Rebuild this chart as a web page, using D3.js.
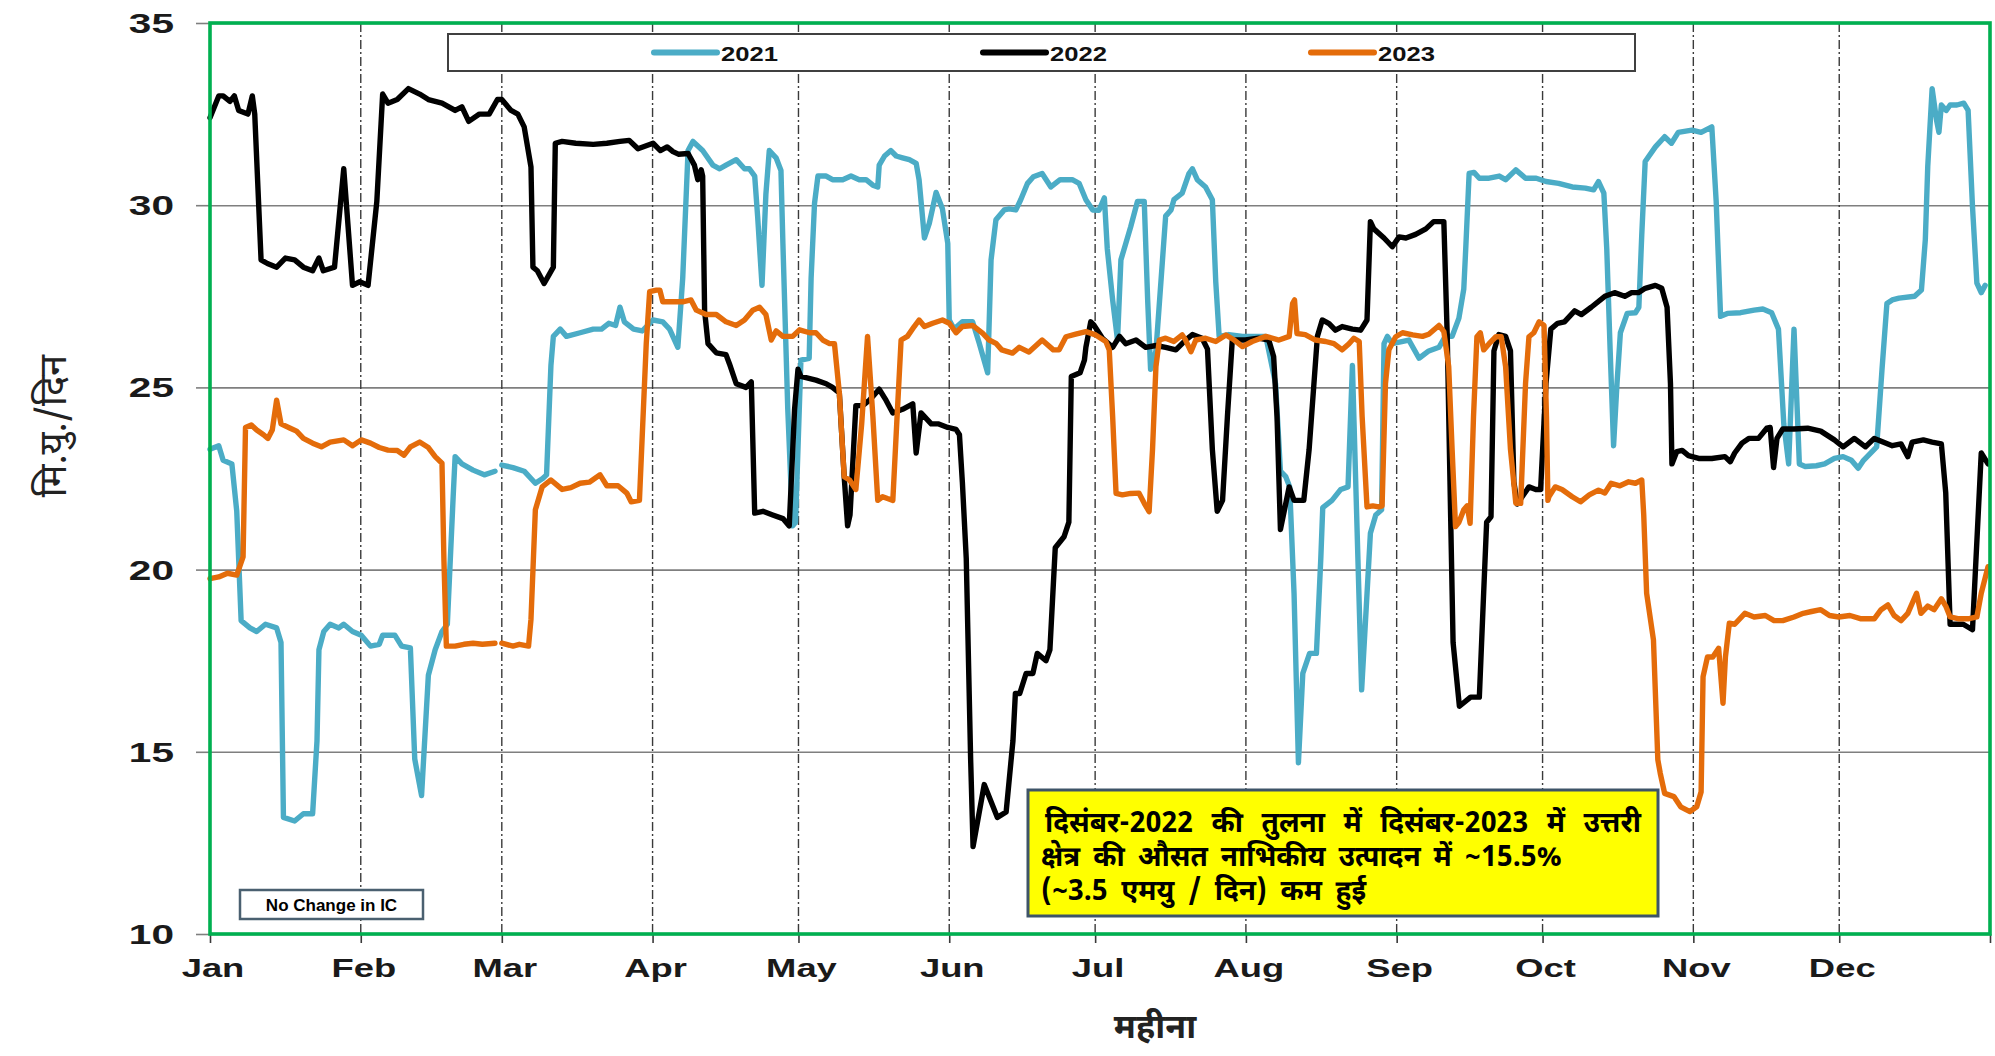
<!DOCTYPE html>
<html><head><meta charset="utf-8">
<script src="https://cdn.jsdelivr.net/npm/d3@7"></script>
<style>body{margin:0;background:#fff;} svg{display:block;}</style>
</head><body>
<svg id="chart" width="1995" height="1056"></svg>
<script>
// ---------- data ----------
const monthLabels = ['Jan','Feb','Mar','Apr','May','Jun','Jul','Aug','Sep','Oct','Nov','Dec'];
const monthStarts = [0,31,60,91,121,152,182,213,244,274,305,335];
const yearDays = 366;
const yTicks = [10,15,20,25,30,35];
const seriesNames = ['2021','2022','2023'];
const seriesColors = ['#4BACC6','#000000','#E46C0A'];

// [day of year, value]
const series2021 = [[0,23.3],[1.8,23.4],[2.7,23.0],[4.5,22.9],[5.5,21.6],[6.4,18.6],[8.2,18.4],[9.6,18.3],[11.4,18.5],[13.7,18.4],[14.6,18.0],[15.1,13.2],[17.4,13.1],[19.2,13.3],[21.1,13.3],[22.0,15.3],[22.4,17.8],[23.4,18.3],[24.7,18.5],[26.5,18.4],[27.5,18.5],[29.3,18.3],[31.1,18.2],[33.0,17.9],[34.8,17.95],[35.5,18.2],[38.0,18.2],[39.4,17.9],[41.2,17.85],[42.1,14.8],[43.5,13.8],[44.9,17.1],[46.3,17.8],[47.7,18.3],[48.8,18.5],[50.0,22.0],[50.4,23.1],[51.8,22.9],[54.1,22.73],[56.4,22.6],[58.6,22.7],[59.5,null],[60.0,22.87],[62.3,22.8],[64.6,22.7],[66.9,22.37],[68.4,22.5],[69.2,22.6],[70.1,25.6],[70.6,26.4],[72.0,26.6],[73.3,26.4],[76.1,26.5],[78.8,26.6],[80.5,26.6],[82.0,26.76],[83.4,26.7],[84.3,27.2],[85.2,26.8],[87.1,26.6],[88.9,26.55],[91.1,26.85],[93.1,26.8],[94.5,26.6],[96.2,26.1],[97.2,28.0],[98.3,31.5],[99.3,31.75],[101.3,31.5],[103.4,31.1],[104.8,31.0],[106.1,31.1],[108.2,31.25],[109.9,31.0],[110.9,31.0],[112.0,30.8],[112.6,29.7],[113.5,27.8],[114.3,30.3],[115.0,31.5],[116.4,31.3],[117.4,30.95],[117.8,28.95],[118.8,24.4],[119.8,21.2],[120.4,21.3],[121.5,25.75],[123.2,25.8],[123.6,28.0],[124.3,30.05],[125.0,30.8],[126.7,30.8],[128.0,30.7],[130.1,30.7],[131.8,30.8],[133.5,30.7],[134.9,30.7],[136.3,30.55],[137.3,30.5],[137.6,31.1],[138.7,31.35],[140.0,31.5],[141.1,31.35],[142.4,31.3],[143.8,31.25],[145.2,31.15],[145.8,30.7],[146.9,29.1],[147.9,29.5],[149.3,30.35],[150.6,29.9],[151.7,28.95],[152.0,26.85],[153.0,26.6],[154.7,26.8],[156.8,26.8],[158.2,26.2],[159.9,25.4],[160.6,28.5],[161.6,29.6],[163.3,29.87],[164.3,29.9],[165.7,29.87],[166.7,30.15],[168.1,30.6],[169.3,30.78],[171.1,30.87],[172.9,30.5],[174.8,30.7],[177.3,30.7],[178.7,30.6],[180.1,30.15],[181.5,29.87],[182.8,29.86],[183.9,30.2],[184.5,28.8],[185.6,27.4],[186.6,26.3],[187.3,28.5],[188.3,28.95],[189.3,29.4],[190.7,30.1],[192.1,30.1],[192.8,27.4],[193.4,25.5],[194.5,26.0],[196.5,29.7],[197.6,29.87],[198.2,30.15],[199.9,30.33],[201.3,30.87],[202.0,31.0],[203.0,30.7],[204.7,30.5],[206.1,30.15],[206.8,27.9],[207.5,26.4],[209.5,26.45],[212.3,26.4],[215.0,26.4],[217.1,26.4],[219.1,25.1],[220.1,22.7],[221.2,22.55],[222.0,22.27],[222.9,19.35],[223.8,14.7],[224.7,17.15],[226.1,17.7],[227.5,17.7],[228.4,20.3],[228.8,21.7],[230.7,21.9],[232.5,22.2],[234.0,22.27],[234.9,25.6],[236.8,16.7],[238.6,21.0],[239.7,21.5],[240.9,21.64],[241.4,26.2],[242.1,26.4],[243.1,26.2],[246.5,26.3],[248.6,25.8],[250.6,26.0],[252.7,26.1],[254.0,26.4],[255.4,26.4],[256.8,26.9],[257.8,27.7],[258.2,28.8],[258.9,30.87],[259.9,30.9],[261.0,30.74],[263.0,30.74],[265.1,30.8],[266.4,30.7],[268.5,30.97],[270.5,30.74],[272.7,30.74],[274.7,30.65],[277.3,30.6],[280.1,30.5],[282.8,30.47],[284.5,30.42],[285.5,30.65],[286.6,30.33],[287.2,28.8],[287.9,26.0],[288.6,23.4],[289.3,25.1],[290.0,26.5],[291.4,27.03],[293.1,27.05],[293.8,27.2],[294.4,29.2],[295.1,31.2],[297.2,31.6],[299.1,31.88],[300.5,31.7],[301.9,32.0],[304.7,32.06],[306.6,32.0],[308.8,32.15],[309.7,30.1],[310.6,26.95],[312.0,27.03],[314.7,27.05],[317.5,27.12],[319.3,27.15],[321.1,27.05],[322.5,26.6],[323.6,24.0],[324.6,22.9],[325.7,26.6],[326.8,22.9],[328.0,22.83],[330.3,22.85],[332.0,22.9],[334.0,23.05],[335.8,23.1],[337.5,23.0],[338.9,22.78],[340.0,23.0],[341.4,23.19],[342.7,23.37],[343.8,25.5],[344.8,27.3],[345.9,27.4],[347.3,27.45],[350.5,27.5],[351.9,27.67],[352.7,29.05],[353.2,31.06],[354.1,33.2],[355.0,32.34],[355.5,32.0],[356.0,32.75],[357.0,32.6],[357.8,32.75],[359.2,32.75],[360.6,32.8],[361.5,32.6],[362.4,29.96],[363.3,27.86],[364.2,27.6],[365.0,27.8]];

const series2022 = [[0,32.4],[1.8,33.0],[2.7,33.0],[4.1,32.85],[5.0,33.0],[5.9,32.6],[7.8,32.5],[8.7,33.0],[9.2,32.5],[10.5,28.5],[11.8,28.4],[13.7,28.3],[15.5,28.55],[17.4,28.5],[19.2,28.3],[21.1,28.2],[22.4,28.55],[23.3,28.2],[25.6,28.3],[27.5,31.0],[29.3,27.8],[30.8,27.9],[32.5,27.8],[34.3,30.1],[35.5,33.05],[36.6,32.8],[38.5,32.9],[40.8,33.2],[43.1,33.05],[44.9,32.9],[47.7,32.8],[50.4,32.6],[51.8,32.7],[53.2,32.3],[55.4,32.5],[57.4,32.5],[59.1,32.9],[60.0,32.9],[61.9,32.6],[63.3,32.5],[64.6,32.15],[66.0,31.05],[66.4,28.3],[67.3,28.2],[68.7,27.85],[70.6,28.3],[71.0,31.7],[72.4,31.75],[75.2,31.7],[78.8,31.67],[81.6,31.7],[84.3,31.75],[86.2,31.78],[88.0,31.55],[91.1,31.7],[92.6,31.5],[94.0,31.6],[95.2,31.47],[96.3,31.4],[98.3,31.42],[99.6,31.1],[100.3,30.7],[101.0,30.97],[101.3,30.8],[101.7,27.1],[102.4,26.2],[104.1,25.95],[106.1,25.9],[106.8,25.65],[108.2,25.1],[110.2,25.0],[111.3,25.15],[112.0,21.55],[113.7,21.6],[115.7,21.5],[117.8,21.4],[119.1,21.2],[120.2,24.4],[120.9,25.5],[121.5,25.3],[124.6,25.2],[126.7,25.1],[128.0,25.0],[129.4,24.85],[130.4,22.55],[131.1,21.2],[131.6,21.5],[132.8,24.5],[134.2,24.5],[135.6,24.65],[137.6,24.95],[139.0,24.65],[140.4,24.3],[142.4,24.4],[144.5,24.55],[145.2,23.2],[146.2,24.3],[148.3,24.0],[149.7,24.0],[151.7,23.9],[153.4,23.85],[154.1,23.7],[154.7,22.4],[155.5,20.3],[156.4,14.8],[156.9,12.4],[159.2,14.1],[161.9,13.2],[163.7,13.35],[165.1,15.3],[165.6,16.6],[166.5,16.6],[167.8,17.15],[169.2,17.15],[170.1,17.7],[171.9,17.5],[172.7,17.8],[173.8,20.6],[175.6,20.9],[176.6,21.3],[177.1,25.3],[178.9,25.4],[179.8,25.75],[180.1,26.1],[181.1,26.8],[181.8,26.7],[183.5,26.35],[185.6,26.1],[187.0,26.4],[188.3,26.2],[190.4,26.3],[192.4,26.1],[194.5,26.15],[196.5,26.1],[198.6,26.03],[200.6,26.3],[202.0,26.45],[204.0,26.35],[205.1,26.05],[206.1,23.3],[207.1,21.6],[208.2,21.9],[209.2,24.2],[210.2,26.3],[212.9,26.3],[215.6,26.35],[217.7,26.3],[218.7,25.85],[219.4,24.2],[220.1,21.1],[221.9,22.27],[222.9,21.9],[224.9,21.9],[226.0,23.3],[227.7,26.4],[228.7,26.85],[230.1,26.75],[231.4,26.57],[232.8,26.67],[234.9,26.6],[236.6,26.57],[237.9,26.85],[238.6,29.55],[239.3,29.35],[241.4,29.1],[243.1,28.86],[244.5,29.13],[245.9,29.1],[247.9,29.2],[250.0,29.35],[251.6,29.55],[253.7,29.55],[254.4,26.4],[255.1,21.45],[255.6,18.0],[256.9,16.25],[259.2,16.5],[261.0,16.5],[261.9,19.4],[262.5,21.3],[263.4,21.45],[264.0,26.0],[265.0,26.45],[266.4,26.4],[267.4,26.0],[268.1,22.4],[268.8,21.8],[269.8,22.0],[271.2,22.27],[272.6,22.2],[273.6,22.2],[274.7,25.1],[275.7,26.6],[277.1,26.76],[278.5,26.8],[280.6,27.1],[282.0,27.0],[284.0,27.2],[286.8,27.5],[288.8,27.6],[290.9,27.5],[292.3,27.6],[293.7,27.6],[295.1,27.72],[297.2,27.8],[298.5,27.72],[299.6,27.2],[300.3,25.1],[300.6,22.9],[301.6,23.24],[302.7,23.27],[304.0,23.13],[306.1,23.05],[308.8,23.05],[311.5,23.1],[312.6,22.96],[313.5,23.2],[315.0,23.47],[316.4,23.6],[318.4,23.6],[320.1,23.88],[320.8,23.9],[321.5,22.8],[322.2,23.6],[323.4,23.86],[325.7,23.86],[328.5,23.88],[331.2,23.8],[334.0,23.56],[335.8,23.37],[338.1,23.6],[340.4,23.37],[342.2,23.6],[344.0,23.5],[345.9,23.4],[347.7,23.45],[349.1,23.1],[350.0,23.5],[352.3,23.56],[354.1,23.5],[356.0,23.45],[356.9,22.1],[357.8,18.5],[358.7,18.5],[360.5,18.5],[362.4,18.35],[364.2,23.2],[365.6,22.9]];

const series2023 = [[0,19.75],[1.8,19.8],[3.6,19.9],[5.5,19.85],[6.8,20.35],[7.3,23.9],[8.5,23.97],[9.6,23.83],[11.0,23.7],[11.9,23.6],[12.8,23.83],[13.7,24.65],[14.6,24.0],[16.5,23.88],[17.8,23.8],[19.2,23.6],[21.1,23.47],[22.9,23.37],[24.7,23.5],[27.5,23.56],[29.3,23.4],[31.1,23.56],[33.0,23.47],[34.8,23.35],[36.6,23.28],[38.5,23.27],[39.9,23.14],[41.2,23.37],[43.1,23.5],[44.9,23.35],[46.3,23.1],[47.7,22.92],[48.1,20.26],[48.6,17.9],[50.4,17.9],[52.2,17.95],[54.1,17.98],[56.0,17.95],[58.6,17.98],[59.5,null],[60.0,17.98],[62.3,17.9],[63.6,17.95],[65.5,17.9],[66.0,18.64],[66.9,21.64],[68.3,22.27],[70.1,22.46],[72.4,22.2],[74.2,22.25],[76.1,22.37],[78.0,22.4],[80.2,22.6],[81.6,22.3],[83.9,22.3],[85.7,22.1],[86.6,21.86],[88.3,21.9],[89.7,26.2],[90.4,27.63],[91.8,27.67],[92.5,27.67],[93.1,27.35],[95.2,27.35],[97.2,27.35],[98.9,27.4],[100.0,27.12],[102.0,27.0],[104.1,27.0],[106.1,26.8],[108.2,26.7],[109.9,26.85],[111.6,27.12],[113.0,27.2],[114.3,27.0],[115.4,26.3],[116.4,26.55],[117.8,26.4],[119.8,26.4],[121.2,26.58],[123.3,26.5],[124.6,26.5],[126.0,26.3],[127.4,26.2],[128.4,26.2],[129.4,24.85],[130.4,22.55],[131.5,22.46],[132.8,22.2],[134.0,24.0],[135.2,26.4],[136.3,24.2],[137.3,21.9],[138.3,22.0],[139.3,21.95],[140.4,21.9],[141.2,24.0],[142.1,26.3],[143.4,26.4],[144.8,26.67],[145.8,26.85],[146.9,26.67],[148.6,26.76],[150.6,26.85],[152.0,26.76],[153.4,26.5],[154.7,26.67],[156.8,26.7],[158.9,26.48],[160.2,26.3],[161.6,26.21],[162.8,26.03],[165.0,25.94],[166.4,26.1],[168.4,25.97],[171.1,26.3],[173.4,26.03],[174.6,26.03],[176.0,26.39],[178.0,26.46],[180.1,26.53],[182.1,26.44],[184.2,26.26],[184.9,26.03],[185.6,24.2],[186.3,22.09],[187.6,22.05],[189.3,22.09],[191.0,22.1],[192.1,21.82],[193.1,21.59],[193.8,23.3],[194.5,25.57],[195.2,26.3],[196.5,26.35],[198.2,26.26],[199.9,26.44],[200.6,26.3],[201.7,25.98],[202.7,26.3],[204.7,26.35],[206.8,26.26],[208.9,26.44],[210.6,26.3],[212.3,26.12],[214.3,26.26],[217.1,26.4],[219.8,26.3],[221.9,26.4],[222.6,27.3],[223.0,27.4],[223.5,26.48],[225.2,26.45],[227.3,26.3],[229.4,26.26],[231.1,26.2],[232.8,26.03],[234.2,26.2],[235.2,26.35],[236.3,26.26],[236.9,24.2],[237.9,21.72],[239.1,21.75],[240.3,21.72],[241.0,21.75],[241.7,25.11],[242.4,26.03],[243.8,26.39],[245.2,26.5],[247.3,26.44],[249.3,26.4],[250.6,26.46],[252.7,26.7],[253.7,26.53],[254.7,25.57],[255.4,23.3],[256.1,21.18],[256.8,21.3],[257.8,21.64],[258.5,21.75],[259.1,21.27],[259.8,24.2],[260.5,26.39],[261.2,26.5],[261.9,26.03],[263.0,26.2],[264.4,26.39],[265.5,26.39],[266.4,25.57],[267.4,23.3],[268.5,21.82],[269.5,21.82],[270.5,25.11],[271.2,26.39],[272.2,26.5],[273.3,26.8],[274.3,26.7],[274.8,24.2],[275.1,21.9],[275.3,22.0],[276.6,22.27],[278.0,22.2],[280.1,22.0],[281.8,21.86],[283.6,22.05],[285.5,22.18],[286.8,22.1],[288.1,22.37],[289.9,22.3],[291.7,22.41],[293.1,22.37],[294.4,22.46],[294.8,21.5],[295.4,19.35],[296.8,18.07],[297.7,14.78],[298.2,14.41],[299.1,13.86],[301.0,13.77],[302.4,13.49],[304.3,13.36],[305.7,13.49],[306.6,13.9],[307.0,17.06],[307.9,17.6],[309.0,17.6],[310.2,17.84],[311.1,16.33],[311.6,17.6],[312.4,18.53],[313.5,18.5],[315.6,18.8],[317.5,18.7],[319.8,18.74],[321.6,18.6],[323.4,18.6],[325.7,18.7],[327.6,18.8],[329.3,18.85],[331.2,18.9],[333.0,18.74],[334.9,18.7],[337.2,18.74],[339.5,18.65],[342.2,18.65],[343.6,18.9],[345.0,19.03],[346.3,18.74],[347.7,18.6],[349.1,18.8],[350.9,19.35],[351.8,18.8],[353.2,19.0],[354.5,18.9],[356.0,19.2],[356.9,19.0],[357.8,18.7],[359.6,18.65],[361.5,18.65],[363.3,18.7],[364.2,19.35],[365.6,20.08]];

const allSeries = [series2021, series2022, series2023];

const yTitle = 'मि.यु./दिन';
const xTitle = 'महीना';
const noteLines = [
  ['दिसंबर-2022','की','तुलना','में','दिसंबर-2023','में','उत्तरी'],
  ['क्षेत्र','की','औसत','नाभिकीय','उत्पादन','में','~15.5%'],
  ['(~3.5','एमयु','/','दिन)','कम','हुई']
];
const icNote = 'No Change in IC';

// ---------- drawing ----------
const L = 210, R = 1990, T = 23, B = 934;
const x = d3.scaleLinear().domain([0, yearDays]).range([L, R]);
const y = d3.scaleLinear().domain([10, 35]).range([B, T]);
const svg = d3.select('#chart');
const latin = "'Liberation Sans', Arial, sans-serif";
const deva = "'Noto Sans Devanagari','Noto Sans', 'Lohit Devanagari', 'FreeSans', sans-serif";

svg.append('rect').attr('width',1995).attr('height',1056).attr('fill','#fff');

// horizontal grid + left ticks
const gy = svg.append('g').attr('transform',`translate(${L},0)`)
  .call(d3.axisLeft(y).tickValues(yTicks).tickSizeInner(-(R-L)).tickSizeOuter(0).tickFormat(''));
gy.select('.domain').remove();
gy.selectAll('.tick line').attr('stroke','#7f7f7f').attr('stroke-width',1.6);
const gy2 = svg.append('g').attr('transform',`translate(${L},0)`)
  .call(d3.axisLeft(y).tickValues(yTicks).tickSize(14).tickFormat(''));
gy2.select('.domain').remove();
gy2.selectAll('.tick line').attr('stroke','#7f7f7f').attr('stroke-width',1.6);

// vertical dash-dot month grid
svg.append('g').selectAll('line').data(monthStarts.slice(1)).join('line')
  .attr('x1',d=>x(d)).attr('x2',d=>x(d)).attr('y1',T).attr('y2',B)
  .attr('stroke','#3a3a3a').attr('stroke-width',1.4).attr('stroke-dasharray','9,3,2,3');

// bottom ticks
const gx = svg.append('g').attr('transform',`translate(0,${B})`)
  .call(d3.axisBottom(x).tickValues(monthStarts.concat([yearDays])).tickSize(9).tickFormat(''));
gx.select('.domain').remove();
gx.selectAll('.tick line').attr('stroke','#3a3a3a').attr('stroke-width',1.6);

// y labels
svg.append('g').selectAll('text').data(yTicks).join('text')
  .attr('transform',d=>`translate(174,${y(d)+10}) scale(1.45,1)`)
  .attr('text-anchor','end').attr('font-family',latin).attr('font-weight','bold')
  .attr('font-size',28).attr('fill','#1a1a1a').text(d=>d);

// x labels
svg.append('g').selectAll('text').data(monthStarts).join('text')
  .attr('transform',(d,i)=>`translate(${x(d)+3},977) scale(1.4,1)`)
  .attr('text-anchor','middle').attr('font-family',latin).attr('font-weight','bold')
  .attr('font-size',26).attr('fill','#1a1a1a').text((d,i)=>monthLabels[i]);

// series lines
const line = d3.line().defined(d=>d[1]!==null).x(d=>x(d[0])).y(d=>y(d[1]));
svg.append('g').selectAll('path').data(allSeries).join('path')
  .attr('d',line).attr('fill','none')
  .attr('stroke',(d,i)=>seriesColors[i]).attr('stroke-width',5.4)
  .attr('stroke-linejoin','round').attr('stroke-linecap','round');

// green frame
svg.append('rect').attr('x',L).attr('y',T).attr('width',R-L).attr('height',B-T)
  .attr('fill','none').attr('stroke','#00B050').attr('stroke-width',3.6);

// legend
svg.append('rect').attr('x',448).attr('y',34).attr('width',1187).attr('height',37)
  .attr('fill','#fff').attr('stroke','#404040').attr('stroke-width',2);
const legX = [654, 983, 1311];
const lg = svg.append('g').selectAll('g').data(seriesNames).join('g')
  .attr('transform',(d,i)=>`translate(${legX[i]},52.5)`);
lg.append('line').attr('x1',0).attr('x2',63).attr('y1',0).attr('y2',0)
  .attr('stroke',(d,i)=>seriesColors[i]).attr('stroke-width',6).attr('stroke-linecap','round');
lg.append('text').attr('transform','translate(67,8) scale(1.22,1)')
  .attr('font-family',latin).attr('font-weight','bold').attr('font-size',21).attr('fill','#111').text(d=>d);

// axis titles
svg.append('text').attr('transform','translate(66,426) rotate(-90)')
  .attr('text-anchor','middle').attr('font-family',deva).attr('font-size',38).attr('fill','#222').text(yTitle);
svg.append('text').attr('x',1155).attr('y',1038)
  .attr('text-anchor','middle').attr('font-family',deva).attr('font-weight','bold').attr('font-size',34).attr('fill','#222').text(xTitle);

// IC note
svg.append('rect').attr('x',240).attr('y',890).attr('width',183).attr('height',29)
  .attr('fill','#fff').attr('stroke','#4A6070').attr('stroke-width',2.5);
svg.append('text').attr('x',331.5).attr('y',911).attr('text-anchor','middle')
  .attr('font-family',latin).attr('font-weight','bold').attr('font-size',17).attr('fill','#000').text(icNote);

// yellow note
svg.append('rect').attr('x',1028).attr('y',790).attr('width',630).attr('height',126)
  .attr('fill','#FFFF00').attr('stroke','#3E5468').attr('stroke-width',3);
const lineStart = [1045, 1041, 1041];
const lineEnd = [1641, 1562, 1366];
const baselines = [832, 866, 900];
noteLines.forEach((words, li) => {
  const g = svg.append('g');
  const ts = g.selectAll('text').data(words).join('text')
    .attr('y', baselines[li]).attr('font-family',deva).attr('font-weight','bold')
    .attr('font-size',28).attr('fill','#000').text(d=>d);
  const widths = ts.nodes().map(n=>n.getComputedTextLength());
  const total = d3.sum(widths);
  const gap = (lineEnd[li]-lineStart[li]-total)/(words.length-1);
  let cx = lineStart[li];
  ts.attr('x', (d,i)=>{ const p = cx; cx += widths[i] + gap; return p; });
});
</script>
</body></html>
